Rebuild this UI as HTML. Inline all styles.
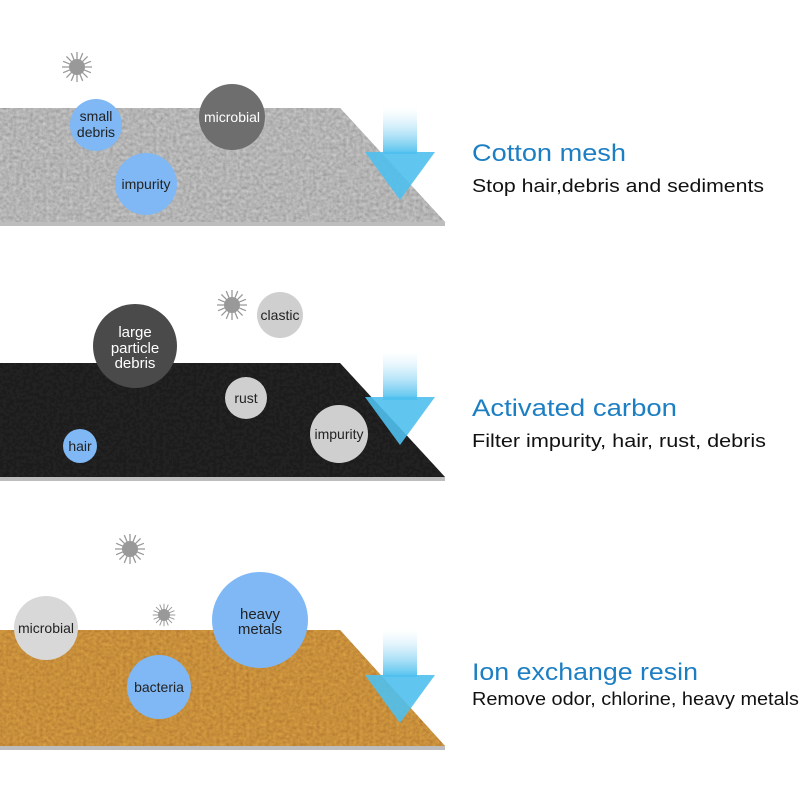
<!DOCTYPE html>
<html><head><meta charset="utf-8"><style>
html,body{margin:0;padding:0;background:#fff;}
svg{display:block;font-family:"Liberation Sans","DejaVu Sans",sans-serif;}
</style></head><body>
<svg width="800" height="800" viewBox="0 0 800 800" xmlns="http://www.w3.org/2000/svg">
<defs>
<linearGradient id="shaft" x1="0" y1="0" x2="0" y2="1">
<stop offset="0" stop-color="#bfe6fa" stop-opacity="0"/>
<stop offset="1" stop-color="#4fc0ee"/>
</linearGradient>
<filter id="tex" x="0" y="0" width="1" height="1">
<feTurbulence type="fractalNoise" baseFrequency="0.3" numOctaves="2" seed="3"/>
<feColorMatrix type="saturate" values="0"/>
<feComponentTransfer><feFuncA type="linear" slope="0" intercept="0.5"/></feComponentTransfer>
<feComposite in2="SourceGraphic" operator="in"/>
<feBlend in2="SourceGraphic" mode="overlay"/>
</filter>
<g id="sun">
<circle r="8" fill="#999"/>
<g stroke="#999" stroke-width="1.3">
<line x1="0" y1="-15" x2="0" y2="15"/><line x1="-15" y1="0" x2="15" y2="0"/>
<line x1="-10.6" y1="-10.6" x2="10.6" y2="10.6"/><line x1="-10.6" y1="10.6" x2="10.6" y2="-10.6"/>
<line x1="-5.7" y1="-13.9" x2="5.7" y2="13.9"/><line x1="-13.9" y1="-5.7" x2="13.9" y2="5.7"/>
<line x1="-5.7" y1="13.9" x2="5.7" y2="-13.9"/><line x1="-13.9" y1="5.7" x2="13.9" y2="-5.7"/>
</g></g>
</defs>

<!-- Layer 1 -->
<rect x="0" y="222" width="445" height="4" fill="#bdbdbd"/>
<polygon points="0,108 340,108 445,222 0,222" fill="#b4b4b4"/>
<polygon points="0,108 340,108 445,222 0,222" fill="#b4b4b4" filter="url(#tex)"/>
<use href="#sun" x="77" y="67"/>
<circle cx="96" cy="125" r="26" fill="#7fb8f5"/>
<text x="96" y="121" font-size="14" text-anchor="middle" fill="#222">small</text>
<text x="96" y="137" font-size="14" text-anchor="middle" fill="#222">debris</text>
<circle cx="232" cy="117" r="33" fill="#6e6e6e"/>
<text x="232" y="122" font-size="14" text-anchor="middle" fill="#fff">microbial</text>
<circle cx="146" cy="184" r="31" fill="#7fb8f5"/>
<text x="146" y="189" font-size="14" text-anchor="middle" fill="#222">impurity</text>
<rect x="383" y="108" width="34" height="46" fill="url(#shaft)"/>
<polygon points="365,152 435,152 400,200" fill="#4fc0ee" opacity="0.9"/>
<text x="472" y="161" font-size="24" fill="#1d7fc3" textLength="154" lengthAdjust="spacingAndGlyphs">Cotton mesh</text>
<text x="472" y="192" font-size="18" fill="#111" textLength="292" lengthAdjust="spacingAndGlyphs">Stop hair,debris and sediments</text>

<!-- Layer 2 -->
<rect x="0" y="477" width="445" height="4" fill="#bdbdbd"/>
<polygon points="0,363 340,363 445,477 0,477" fill="#1f1f1f"/>
<polygon points="0,363 340,363 445,477 0,477" fill="#1f1f1f" filter="url(#tex)"/>
<use href="#sun" x="232" y="305"/>
<circle cx="280" cy="315" r="23" fill="#cfcfcf"/>
<text x="280" y="320" font-size="14" text-anchor="middle" fill="#222">clastic</text>
<circle cx="135" cy="346" r="42" fill="#4a4a4a"/>
<text x="135" y="337" font-size="15" text-anchor="middle" fill="#fff">large</text>
<text x="135" y="353" font-size="15" text-anchor="middle" fill="#fff">particle</text>
<text x="135" y="368" font-size="15" text-anchor="middle" fill="#fff">debris</text>
<circle cx="246" cy="398" r="21" fill="#cfcfcf"/>
<text x="246" y="403" font-size="14" text-anchor="middle" fill="#222">rust</text>
<circle cx="339" cy="434" r="29" fill="#cfcfcf"/>
<text x="339" y="439" font-size="14" text-anchor="middle" fill="#222">impurity</text>
<circle cx="80" cy="446" r="17" fill="#7fb8f5"/>
<text x="80" y="451" font-size="14" text-anchor="middle" fill="#222">hair</text>
<rect x="383" y="352" width="34" height="48" fill="url(#shaft)"/>
<polygon points="365,397 435,397 400,445" fill="#4fc0ee" opacity="0.9"/>
<text x="472" y="416" font-size="24" fill="#1d7fc3" textLength="205" lengthAdjust="spacingAndGlyphs">Activated carbon</text>
<text x="472" y="447" font-size="18" fill="#111" textLength="294" lengthAdjust="spacingAndGlyphs">Filter impurity, hair, rust, debris</text>

<!-- Layer 3 -->
<rect x="0" y="746" width="445" height="4" fill="#bdbdbd"/>
<polygon points="0,630 340,630 445,746 0,746" fill="#c88f3b"/>
<polygon points="0,630 340,630 445,746 0,746" fill="#c88f3b" filter="url(#tex)"/>
<use href="#sun" x="130" y="549"/>
<use href="#sun" x="164" y="615" transform="translate(164 615) scale(0.75) translate(-164 -615)"/>
<circle cx="46" cy="628" r="32" fill="#d8d8d8"/>
<text x="46" y="633" font-size="14" text-anchor="middle" fill="#222">microbial</text>
<circle cx="260" cy="620" r="48" fill="#7fb8f5"/>
<text x="260" y="619" font-size="15" text-anchor="middle" fill="#222">heavy</text>
<text x="260" y="634" font-size="15" text-anchor="middle" fill="#222">metals</text>
<circle cx="159" cy="687" r="32" fill="#7fb8f5"/>
<text x="159" y="692" font-size="14" text-anchor="middle" fill="#222">bacteria</text>
<rect x="383" y="630" width="34" height="47" fill="url(#shaft)"/>
<polygon points="365,675 435,675 400,723" fill="#4fc0ee" opacity="0.9"/>
<text x="472" y="680" font-size="24" fill="#1d7fc3" textLength="226" lengthAdjust="spacingAndGlyphs">Ion exchange resin</text>
<text x="472" y="705" font-size="18" fill="#111" textLength="327" lengthAdjust="spacingAndGlyphs">Remove odor, chlorine, heavy metals</text>
</svg>
</body></html>
